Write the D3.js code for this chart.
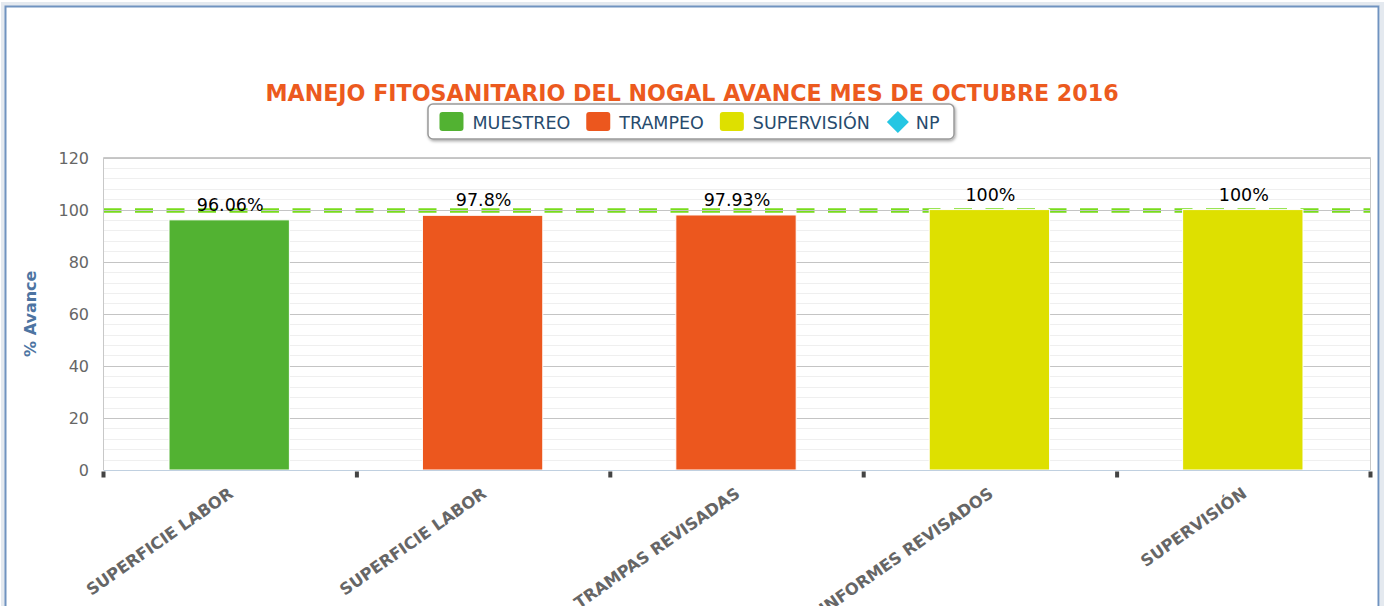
<!DOCTYPE html>
<html>
<head>
<meta charset="utf-8">
<script src="https://cdn.jsdelivr.net/npm/d3@7"></script>
<style>
  body { margin: 0; background: #fff; }
  svg { display: block; font-family: "DejaVu Sans", sans-serif; }
</style>
</head>
<body>
<div id="chart"></div>
<script>
var width = 1385;
var height = 606;

// data
var categories = ["SUPERFICIE LABOR", "SUPERFICIE LABOR", "TRAMPAS REVISADAS", "INFORMES REVISADOS", "SUPERVISIÓN"];
var values = [96.06, 97.8, 97.93, 100, 100];
var labels = ["96.06%", "97.8%", "97.93%", "100%", "100%"];
var seriesOf = ["MUESTREO", "TRAMPEO", "TRAMPEO", "SUPERVISIÓN", "SUPERVISIÓN"];
var seriesNames = ["MUESTREO", "TRAMPEO", "SUPERVISIÓN", "NP"];
var seriesColors = ["#52b232", "#ec571e", "#dee000", "#25c6e3"];
var yTicks = [0, 20, 40, 60, 80, 100, 120];
var target = 100;

var plot = {left: 103.5, right: 1370.5, top: 157.5, bottom: 470};

var svg = d3.select("#chart").append("svg")
    .attr("width", width)
    .attr("height", height);

var defs = svg.append("defs");
var sh = defs.append("filter").attr("id", "shadow")
    .attr("x", "-5%").attr("y", "-20%").attr("width", "110%").attr("height", "160%");
sh.append("feDropShadow").attr("dx", 1).attr("dy", 1.5).attr("stdDeviation", 1.5)
    .attr("flood-color", "#000").attr("flood-opacity", 0.35);

// outer panel frame
svg.append("rect")
    .attr("x", 3).attr("y", 4).attr("width", 1379).attr("height", 640)
    .attr("fill", "none").attr("stroke", "#e4e9ef").attr("stroke-width", 4);
svg.append("rect")
    .attr("x", 5.5).attr("y", 6.5).attr("width", 1373).attr("height", 640)
    .attr("fill", "#fff").attr("stroke", "#7093c0").attr("stroke-width", 2);

var colorScale = d3.scaleOrdinal().domain(seriesNames).range(seriesColors);

var x = d3.scaleBand()
    .domain(d3.range(categories.length))
    .range([plot.left, plot.right])
    .padding(0);

var y = d3.scaleLinear()
    .domain([0, 120])
    .range([plot.bottom, plot.top]);

// minor grid
var minor = d3.range(0, 121, 4).filter(function(d){ return d % 20 != 0; });
svg.append("g").selectAll("line")
    .data(minor)
    .enter().append("line")
        .attr("x1", plot.left).attr("x2", plot.right)
        .attr("y1", function(d){ return Math.round(y(d)) + 0.5; })
        .attr("y2", function(d){ return Math.round(y(d)) + 0.5; })
        .attr("stroke", "#efefef");

// target dashed line
svg.append("line")
    .attr("x1", plot.left).attr("x2", plot.right)
    .attr("y1", Math.round(y(target)) + 0.5).attr("y2", Math.round(y(target)) + 0.5)
    .attr("stroke", "#78dc1c").attr("stroke-width", 4.5)
    .attr("stroke-dasharray", "18,13.5");

// major grid
svg.append("g").selectAll("line")
    .data(yTicks.filter(function(d){ return d > 0; }))
    .enter().append("line")
        .attr("x1", plot.left).attr("x2", plot.right)
        .attr("y1", function(d){ return Math.round(y(d)) + 0.5; })
        .attr("y2", function(d){ return Math.round(y(d)) + 0.5; })
        .attr("stroke", "#c4c4c4");

// plot border
svg.append("path")
    .attr("d", "M" + plot.left + "," + plot.bottom + "V" + plot.top + "H" + plot.right + "V" + plot.bottom)
    .attr("fill", "none").attr("stroke", "#c8c8c8");

// bars
var barW = x.bandwidth() * 0.475;
svg.append("g").selectAll("rect")
    .data(values)
    .enter().append("rect")
        .attr("x", function(d, i){ return x(i) + x.bandwidth() / 2 - barW / 2 - 1; })
        .attr("y", function(d){ return y(d); })
        .attr("width", barW)
        .attr("height", function(d){ return y(0) - y(d); })
        .attr("fill", function(d, i){ return colorScale(seriesOf[i]); })
        .attr("stroke", "#fff").attr("stroke-width", 1);

// data labels
svg.append("g").selectAll("text")
    .data(values)
    .enter().append("text")
        .attr("x", function(d, i){ return x(i) + x.bandwidth() / 2; })
        .attr("y", function(d){ return y(d) - 9; })
        .attr("text-anchor", "middle")
        .attr("font-size", "17.5px")
        .attr("fill", "#000")
        .text(function(d, i){ return labels[i]; });

// x axis line
svg.append("line")
    .attr("x1", plot.left).attr("x2", plot.right)
    .attr("y1", plot.bottom + 0.5).attr("y2", plot.bottom + 0.5)
    .attr("stroke", "#c0d0e0");

// x ticks at category boundaries
var bounds = d3.range(categories.length + 1).map(function(i){
    return i < categories.length ? x(i) : plot.right;
});
svg.append("g").selectAll("rect")
    .data(bounds)
    .enter().append("rect")
        .attr("x", function(d){ return d - 2; })
        .attr("y", plot.bottom + 1.5)
        .attr("width", 4).attr("height", 6)
        .attr("fill", "#444");

// x labels
svg.append("g").selectAll("text")
    .data(categories)
    .enter().append("text")
        .attr("transform", function(d, i){
            return "translate(" + (x(i) + x.bandwidth() / 2 + 4) + "," + 496 + ") rotate(-35)";
        })
        .attr("text-anchor", "end")
        .attr("font-size", "16.3px")
        .attr("font-weight", "bold")
        .attr("fill", "#666")
        .text(function(d){ return d; });

// y tick labels
svg.append("g").selectAll("text")
    .data(yTicks)
    .enter().append("text")
        .attr("x", 89)
        .attr("y", function(d){ return y(d) + 6; })
        .attr("text-anchor", "end")
        .attr("font-size", "16px")
        .attr("fill", "#666")
        .text(function(d){ return d; });

// y axis title
svg.append("text")
    .attr("transform", "translate(36," + ((plot.top + plot.bottom) / 2) + ") rotate(-90)")
    .attr("text-anchor", "middle")
    .attr("font-size", "16px")
    .attr("font-weight", "bold")
    .attr("fill", "#4d74a2")
    .text("% Avance");

// title
svg.append("text")
    .attr("x", 692)
    .attr("y", 101)
    .attr("text-anchor", "middle")
    .attr("font-size", "22.2px")
    .attr("font-weight", "bold")
    .attr("fill", "#ec5a1e")
    .text("MANEJO FITOSANITARIO DEL NOGAL AVANCE MES DE OCTUBRE 2016");

// legend
var legend = svg.append("g");
var legendBox = legend.append("rect")
    .attr("y", 104).attr("height", 35)
    .attr("rx", 5)
    .attr("fill", "#fff").attr("stroke", "#999").attr("stroke-width", 1.5)
    .attr("filter", "url(#shadow)");

var items = legend.selectAll("g.item")
    .data(seriesNames)
    .enter().append("g").attr("class", "item");

items.append("text")
    .attr("y", 129)
    .attr("font-size", "17.5px")
    .attr("fill", "#274b6d")
    .text(function(d){ return d; });

var cursor = 0;
var symW = 24, symGap = 9, itemGap = 16;
var offsets = [];
items.each(function(d){
    var w = d3.select(this).select("text").node().getComputedTextLength();
    offsets.push(cursor);
    cursor += symW + symGap + w + itemGap;
});
var totalW = cursor - itemGap;
var legendX = 691 - totalW / 2;

items.attr("transform", function(d, i){ return "translate(" + (legendX + offsets[i]) + ",0)"; });
items.select("text").attr("x", function(d){ return d == "NP" ? symW + symGap - 3 : symW + symGap; });
items.filter(function(d){ return d != "NP"; })
    .append("rect")
        .attr("x", 0).attr("y", 112)
        .attr("width", symW).attr("height", 19)
        .attr("rx", 3)
        .attr("fill", function(d){ return colorScale(d); });
items.filter(function(d){ return d == "NP"; })
    .append("path")
        .attr("d", "M12,111 L23,122 L12,133 L1,122 Z")
        .attr("fill", function(d){ return colorScale(d); });

legendBox.attr("x", legendX - 11.5).attr("width", totalW + 23);
</script>
</body>
</html>
